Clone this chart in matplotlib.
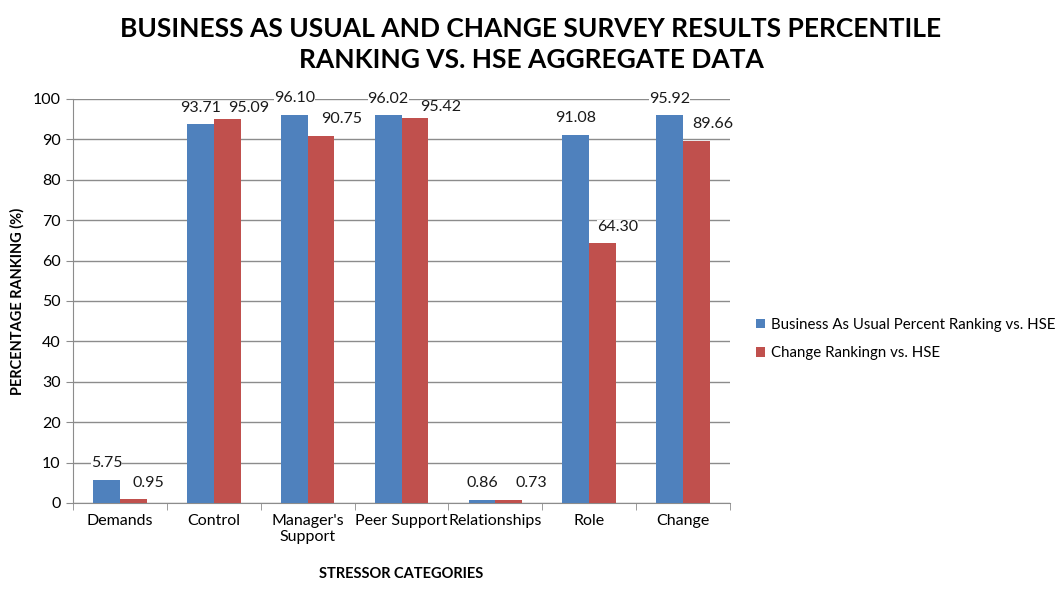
import numpy as np
import matplotlib
matplotlib.use("Agg")
import matplotlib.pyplot as plt
from matplotlib.patches import Patch

plt.rcParams['font.family'] = ['Lato', 'DejaVu Sans']

categories = ["Demands", "Control", "Manager's\nSupport", "Peer Support",
              "Relationships", "Role", "Change"]
bau_values = [5.75, 93.71, 96.10, 96.02, 0.86, 91.08, 95.92]
change_values = [0.95, 95.09, 90.75, 95.42, 0.73, 64.30, 89.66]
series_names = ["Business As Usual Percent Ranking vs. HSE", "Change Rankingn vs. HSE"]

# label placement (hand-tuned to the reference)
red_dx = [0.299, 0.371, 0.363, 0.413, 0.380, 0.301, 0.322]
red_dy = [4.1, 2.7, 4.4, 2.5, 4.2, 4.1, 4.1]

blue = "#4F81BD"
red = "#C0504D"
grid_col = "#8C8C8C"

fig = plt.figure(figsize=(10.64, 5.95), dpi=100)
ax = fig.add_axes([73/1064, 1-503/595, (730-73)/1064, (503-99)/595])

x = np.arange(len(categories))
w = 0.285
ax.bar(x - w/2, bau_values, w, color=blue, zorder=3)
ax.bar(x + w/2, change_values, w, color=red, zorder=3)

for i in range(len(categories)):
    ax.text(x[i] - w/2, bau_values[i] + 4.1, "%.2f" % bau_values[i], ha='center', va='center',
            fontsize=11.5, color='#1a1a1a', zorder=4,
            bbox=dict(facecolor='white', edgecolor='none', pad=0))
    ax.text(x[i] + red_dx[i], change_values[i] + red_dy[i], "%.2f" % change_values[i],
            ha='center', va='center', fontsize=11.5, color='#1a1a1a', zorder=4,
            bbox=dict(facecolor='white', edgecolor='none', pad=0))

ax.set_xlim(-0.5, len(categories) - 0.5)
ax.set_ylim(0, 100)
ax.set_yticks(np.arange(0, 101, 10))
ax.tick_params(axis='y', labelsize=11.5, length=5, color=grid_col, pad=4)
ax.set_xticks(x)
ax.set_xticklabels(categories, fontsize=11.5)
ax.tick_params(axis='x', length=0, pad=8)
ax.set_xticks(np.arange(-0.5, len(categories), 1), minor=True)
ax.tick_params(axis='x', which='minor', length=5, color=grid_col)
ax.yaxis.grid(True, color=grid_col, lw=1)
ax.set_axisbelow(True)
for s in ['top', 'right']:
    ax.spines[s].set_visible(False)
for s in ['left', 'bottom']:
    ax.spines[s].set_color(grid_col)

ax.set_ylabel("PERCENTAGE RANKING (%)", fontsize=10.5, fontweight='bold', labelpad=6)
ax.set_xlabel("STRESSOR CATEGORIES", fontsize=10.5, fontweight='bold', labelpad=16)

fig.suptitle("BUSINESS AS USUAL AND CHANGE SURVEY RESULTS PERCENTILE\nRANKING VS. HSE AGGREGATE DATA",
             x=531/1064, y=0.972, fontsize=19, fontweight='bold', linespacing=1.35)

handles = [Patch(facecolor=blue), Patch(facecolor=red)]
fig.legend(handles, series_names, loc='center left', bbox_to_anchor=(742/1064, 1-339/595),
           frameon=False, fontsize=10.8, handlelength=0.6, handleheight=0.6,
           handletextpad=0.45, labelspacing=0.95)

fig.savefig("out.png", dpi=100)
